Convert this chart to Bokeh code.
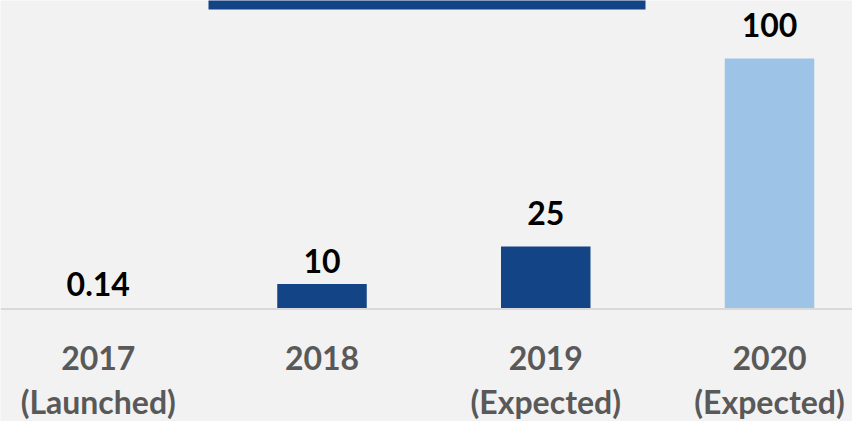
from bokeh.plotting import figure
from bokeh.models import Range1d, Span
from bokeh.core.properties import value
from bokeh.embed import file_html
from bokeh.resources import INLINE

# ---- data ----
categories = ["2017", "2018", "2019", "2020"]
sublabels = ["(Launched)", "", "(Expected)", "(Expected)"]
values = [0.14, 10, 25, 100]
value_labels = ["0.14", "10", "25", "100"]

# ---- styles ----
DARK = "#134486"
LIGHT = "#9dc3e6"
BG = "#f2f2f2"
bar_colors = [DARK, DARK, DARK, LIGHT]
TEXT_SHIFT = 11.5
label_gap_px = [13.5 + TEXT_SHIFT, 11 + TEXT_SHIFT, 21.5 + TEXT_SHIFT, 22 + TEXT_SHIFT]

W, H = 852, 421
PX_PER_CAT = 223.75
first_center_px = 97.75
x_start = -first_center_px / PX_PER_CAT
x_end = x_start + W / PX_PER_CAT

PX_PER_UNIT = 2.505
baseline_px = 308.5
y_end = baseline_px / PX_PER_UNIT
y_start = y_end - H / PX_PER_UNIT

def px_x(px):
    return x_start + px / PX_PER_CAT

def px_y(py):
    return y_end - py / PX_PER_UNIT

p = figure(width=W, height=H, x_range=Range1d(x_start, x_end),
           y_range=Range1d(y_start, y_end), output_backend="svg",
           toolbar_location=None, min_border=0,
           background_fill_color=BG, border_fill_color=BG,
           outline_line_color=None)
p.axis.visible = False
p.grid.visible = False

xs = list(range(len(categories)))

# title box (cut off at top)
p.quad(left=[px_x(208)], right=[px_x(645)], top=[y_end + 5], bottom=[px_y(9)],
       fill_color=DARK, line_color=None)

p.vbar(x=xs, top=values, bottom=0, width=0.4, fill_color=bar_colors, line_color=None)

p.add_layout(Span(location=0, dimension="width", line_color="#d9d9d9", line_width=2))

for i in xs:
    p.text(x=[xs[i]], y=[values[i]], text=[value_labels[i]], text_align="center",
           text_baseline="alphabetic", y_offset=-label_gap_px[i],
           text_font=value("Lato"), text_font_style="bold",
           text_font_size="32px", text_color="black")

p.text(x=xs, y=[0] * len(xs), text=categories, text_align="center",
       text_baseline="alphabetic", y_offset=60.5 - TEXT_SHIFT,
       text_font=value("Lato"), text_font_style="bold",
       text_font_size="32px", text_color="#595959")
p.text(x=xs, y=[0] * len(xs), text=sublabels, text_align="center",
       text_baseline="alphabetic", y_offset=103.5 - TEXT_SHIFT,
       text_font=value("Lato"), text_font_style="bold",
       text_font_size="32px", text_color="#595959")

open("out.html", "w").write(file_html(p, INLINE))
